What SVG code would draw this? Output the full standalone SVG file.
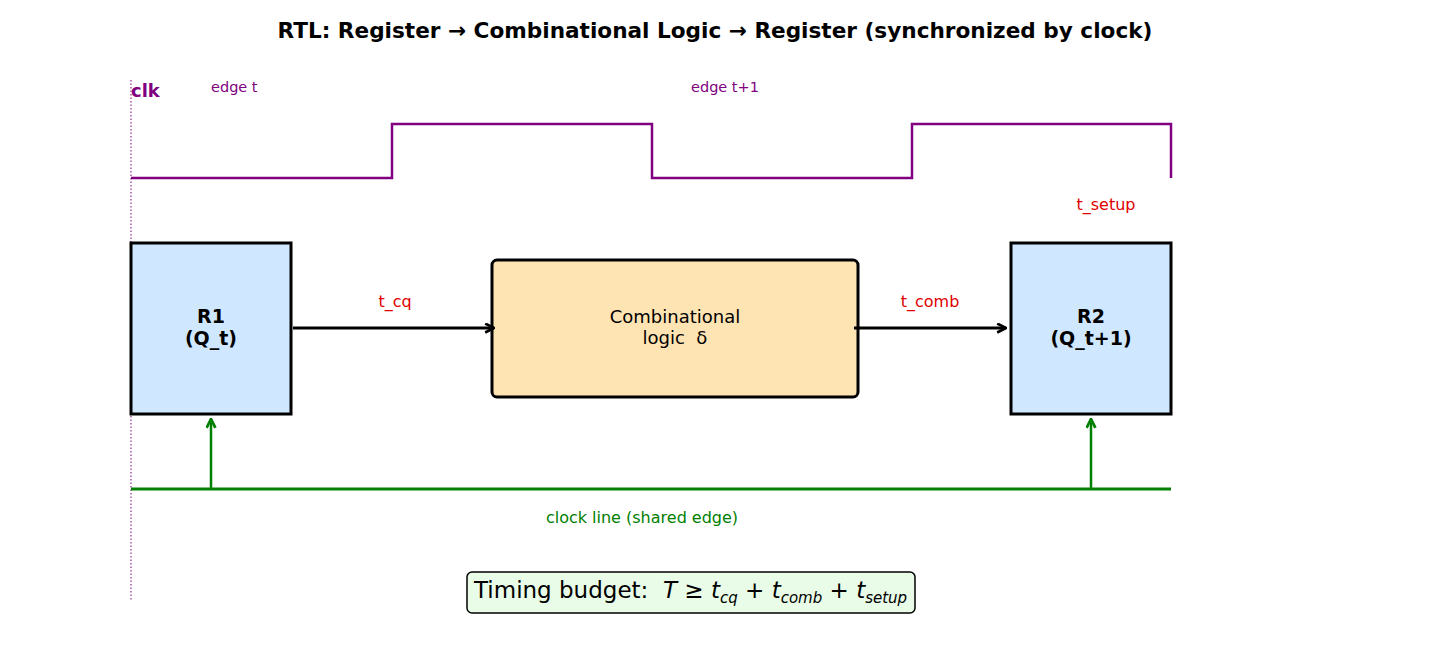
<svg xmlns="http://www.w3.org/2000/svg" width="1430" height="650" viewBox="0 0 1430 650">
<style>
text{font-family:"DejaVu Sans","Liberation Sans",sans-serif;white-space:pre}
.reg{fill:#cfe8ff;stroke:#000;stroke-width:3}
.lbl{font-size:19px;font-weight:bold;text-anchor:middle;fill:#000}
.red{font-size:16px;fill:#e00000;text-anchor:middle}
.pur{fill:#800080}
.m{font-style:italic}
</style>
<defs>
<marker id="ab" viewBox="0 0 10 10" refX="9" refY="5" markerWidth="11" markerHeight="11" markerUnits="userSpaceOnUse" orient="auto"><path d="M1,1 L9,5 L1,9" fill="none" stroke="#000" stroke-width="2.5"/></marker>
<marker id="ag" viewBox="0 0 10 10" refX="9" refY="5" markerWidth="11" markerHeight="11" markerUnits="userSpaceOnUse" orient="auto"><path d="M1,1 L9,5 L1,9" fill="none" stroke="#008000" stroke-width="2.5"/></marker>
</defs>
<rect width="1430" height="650" fill="#fff"/>
<text x="715" y="38" font-size="21.6" font-weight="bold" text-anchor="middle">RTL: Register → Combinational Logic → Register (synchronized by clock)</text>
<g id="clock">
<line x1="131" y1="80" x2="131" y2="601" stroke="#800080" stroke-width="1" stroke-dasharray="1.5,2"/>
<path d="M131,178 H392 V124 H652 V178 H912 V124 H1171 V178" fill="none" stroke="#800080" stroke-width="2.5"/>
<text x="131" y="97" font-size="18" font-weight="bold" class="pur">clk</text>
<text x="211" y="92" font-size="14.5" class="pur">edge t</text>
<text x="691" y="92" font-size="14.5" class="pur">edge t+1</text>
</g>
<g id="R1">
<rect x="131" y="243" width="160" height="171" class="reg"/>
<text x="211" y="323" class="lbl">R1</text>
<text x="211" y="345" class="lbl">(Q_t)</text>
</g>
<g id="comb">
<rect x="492" y="260" width="366" height="137" rx="5" fill="#ffe4b3" stroke="#000" stroke-width="3"/>
<text x="675" y="323" font-size="18" text-anchor="middle">Combinational</text>
<text x="675" y="344" font-size="18" text-anchor="middle" xml:space="preserve">logic  δ</text>
</g>
<g id="R2">
<rect x="1011" y="243" width="160" height="171" class="reg"/>
<text x="1091" y="323" class="lbl">R2</text>
<text x="1091" y="345" class="lbl">(Q_t+1)</text>
</g>
<g id="connectors">
<line x1="293" y1="328" x2="494" y2="328" stroke="#000" stroke-width="3" marker-end="url(#ab)"/>
<line x1="854" y1="328" x2="1006" y2="328" stroke="#000" stroke-width="3" marker-end="url(#ab)"/>
<line x1="131" y1="489" x2="1171" y2="489" stroke="#008000" stroke-width="3"/>
<line x1="211" y1="489" x2="211" y2="419" stroke="#008000" stroke-width="2.5" marker-end="url(#ag)"/>
<line x1="1091" y1="489" x2="1091" y2="419" stroke="#008000" stroke-width="2.5" marker-end="url(#ag)"/>
</g>
<text x="395" y="307" class="red">t_cq</text>
<text x="930" y="307" class="red">t_comb</text>
<text x="1106" y="210" class="red">t_setup</text>
<text x="642" y="523" font-size="16" fill="#008000" text-anchor="middle">clock line (shared edge)</text>
<g id="budget">
<rect x="467" y="572" width="448" height="41" rx="5" fill="#e8fce8" stroke="#000" stroke-width="1.5"/>
<text x="474" y="598" font-size="23" xml:space="preserve">Timing budget:  <tspan class="m">T</tspan> ≥ <tspan class="m">t</tspan><tspan class="m" font-size="15" dy="5">cq</tspan><tspan dy="-5"> + </tspan><tspan class="m">t</tspan><tspan class="m" font-size="15" dy="5">comb</tspan><tspan dy="-5"> + </tspan><tspan class="m">t</tspan><tspan class="m" font-size="15" dy="5">setup</tspan></text>
</g>
</svg>
